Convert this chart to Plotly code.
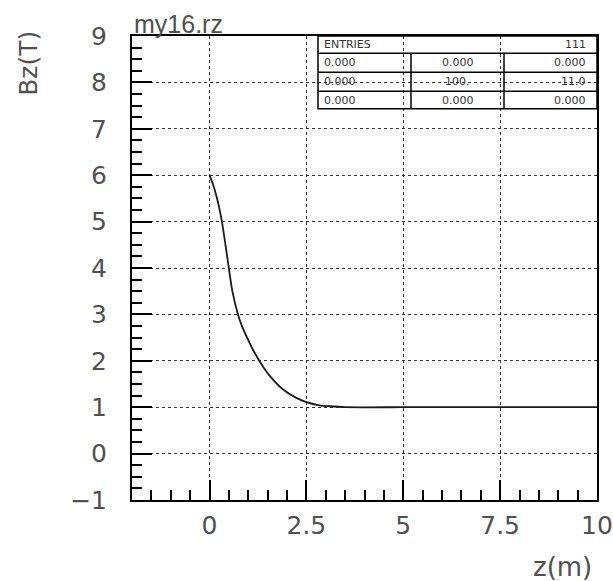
import plotly.graph_objects as go

# Field profile along the axis
z_vals = [0.0, 0.10, 0.20, 0.27, 0.33, 0.40, 0.49, 0.59, 0.74, 0.85, 0.97,
          1.10, 1.25, 1.40, 1.55, 1.90, 2.24, 2.50, 2.84, 3.10, 3.50, 5.0, 7.5, 10.0]
bz_vals = [6.0, 5.78, 5.48, 5.22, 4.95, 4.57, 4.05, 3.50, 2.98, 2.72, 2.50,
           2.27, 2.05, 1.85, 1.68, 1.38, 1.20, 1.11, 1.04, 1.02, 1.00, 1.00, 1.00, 1.00]

x_tick_vals = [0, 2.5, 5, 7.5, 10]
x_tick_text = ["0", "2.5", "5", "7.5", "10"]
y_tick_vals = [-1, 0, 1, 2, 3, 4, 5, 6, 7, 8, 9]

# Statistics box contents
stats_header = ["ENTRIES", "111"]
stats_rows = [
    ["0.000", "0.000", "0.000"],
    ["0.000", "100.", "11.0"],
    ["0.000", "0.000", "0.000"],
]

TXT = "#505050"
TICK_FONT = "DejaVu Sans ExtraLight, DejaVu Sans"
TITLE_FONT = "Liberation Sans"

fig = go.Figure()
fig.add_trace(go.Scatter(
    x=z_vals, y=bz_vals, mode="lines",
    line=dict(color="#1a1a1a", width=1.8, shape="spline", smoothing=0.5),
    showlegend=False, hoverinfo="skip",
))

axis_common = dict(
    showline=True, linecolor="black", linewidth=2, mirror=True,
    ticks="inside", ticklen=20, tickwidth=1.5, tickcolor="black",
    showgrid=True, gridcolor="#333333", gridwidth=1, griddash="dot",
    zeroline=False, automargin=False,
    tickfont=dict(family=TICK_FONT, size=25, color=TXT),
)

fig.update_xaxes(
    range=[-2, 10], tickvals=x_tick_vals, ticktext=x_tick_text,
    minor=dict(ticks="inside", ticklen=10, tickwidth=1.5, tickcolor="black",
               dtick=0.5, tick0=0, showgrid=False),
    ticklabelstandoff=2,
    **axis_common,
)
fig.update_yaxes(
    range=[-1, 9], tickvals=y_tick_vals,
    minor=dict(ticks="inside", ticklen=10, tickwidth=1.5, tickcolor="black",
               dtick=0.25, tick0=0, showgrid=False),
    ticklabelstandoff=18,
    **axis_common,
)

shapes = []
annotations = []

# Statistics box geometry (paper coordinates inside the plot area)
box_x = [0.4, 0.6, 0.8, 1.0]
row_y = [1.0, 0.9627, 0.922, 0.881, 0.843]
line_style = dict(color="black", width=1.5)
shapes.append(dict(type="rect", xref="paper", yref="paper",
                   x0=box_x[0], x1=box_x[3], y0=row_y[4], y1=row_y[0],
                   line=line_style, fillcolor="rgba(0,0,0,0)", layer="above"))
for yv in row_y[1:4]:
    shapes.append(dict(type="line", xref="paper", yref="paper",
                       x0=box_x[0], x1=box_x[3], y0=yv, y1=yv,
                       line=line_style, layer="above"))
for xv in box_x[1:3]:
    shapes.append(dict(type="line", xref="paper", yref="paper",
                       x0=xv, x1=xv, y0=row_y[4], y1=row_y[1],
                       line=line_style, layer="above"))

cell_font = dict(family="DejaVu Sans", size=11, color="#333333")
hdr_y = (row_y[0] + row_y[1]) / 2
annotations.append(dict(xref="paper", yref="paper", x=box_x[0], y=hdr_y,
                        text=stats_header[0], showarrow=False, xanchor="left",
                        yanchor="middle", xshift=4, font=cell_font))
annotations.append(dict(xref="paper", yref="paper", x=box_x[3], y=hdr_y,
                        text=stats_header[1], showarrow=False, xanchor="right",
                        yanchor="middle", xshift=-9, font=cell_font))
for i, row in enumerate(stats_rows):
    yc = (row_y[i + 1] + row_y[i + 2]) / 2
    annotations.append(dict(xref="paper", yref="paper", x=box_x[0], y=yc,
                            text=row[0], showarrow=False, xanchor="left",
                            yanchor="middle", xshift=4, font=cell_font))
    annotations.append(dict(xref="paper", yref="paper", x=0.7, y=yc,
                            text=row[1], showarrow=False, xanchor="center",
                            yanchor="middle", font=cell_font))
    annotations.append(dict(xref="paper", yref="paper", x=box_x[3], y=yc,
                            text=row[2], showarrow=False, xanchor="right",
                            yanchor="middle", xshift=-9, font=cell_font))

# Title and axis labels
annotations.append(dict(xref="paper", yref="paper", x=0, y=1, text="my16.rz",
                        showarrow=False, xanchor="left", yanchor="bottom",
                        yshift=-4, font=dict(family=TITLE_FONT, size=25, color=TXT)))
annotations.append(dict(xref="paper", yref="paper", x=-0.2215, y=0.94,
                        text="Bz(T)", showarrow=False, textangle=-90,
                        xanchor="center", yanchor="middle",
                        font=dict(family=TICK_FONT, size=25, color=TXT)))
annotations.append(dict(xref="paper", yref="paper", x=0.925, y=-0.145,
                        text="z(m)", showarrow=False, xanchor="center",
                        yanchor="middle",
                        font=dict(family=TICK_FONT, size=26, color=TXT)))

fig.update_layout(
    width=613, height=581,
    margin=dict(l=132, r=16, t=36, b=81),
    paper_bgcolor="white", plot_bgcolor="white",
    shapes=shapes, annotations=annotations,
    showlegend=False,
)

fig.write_html("out.html")
